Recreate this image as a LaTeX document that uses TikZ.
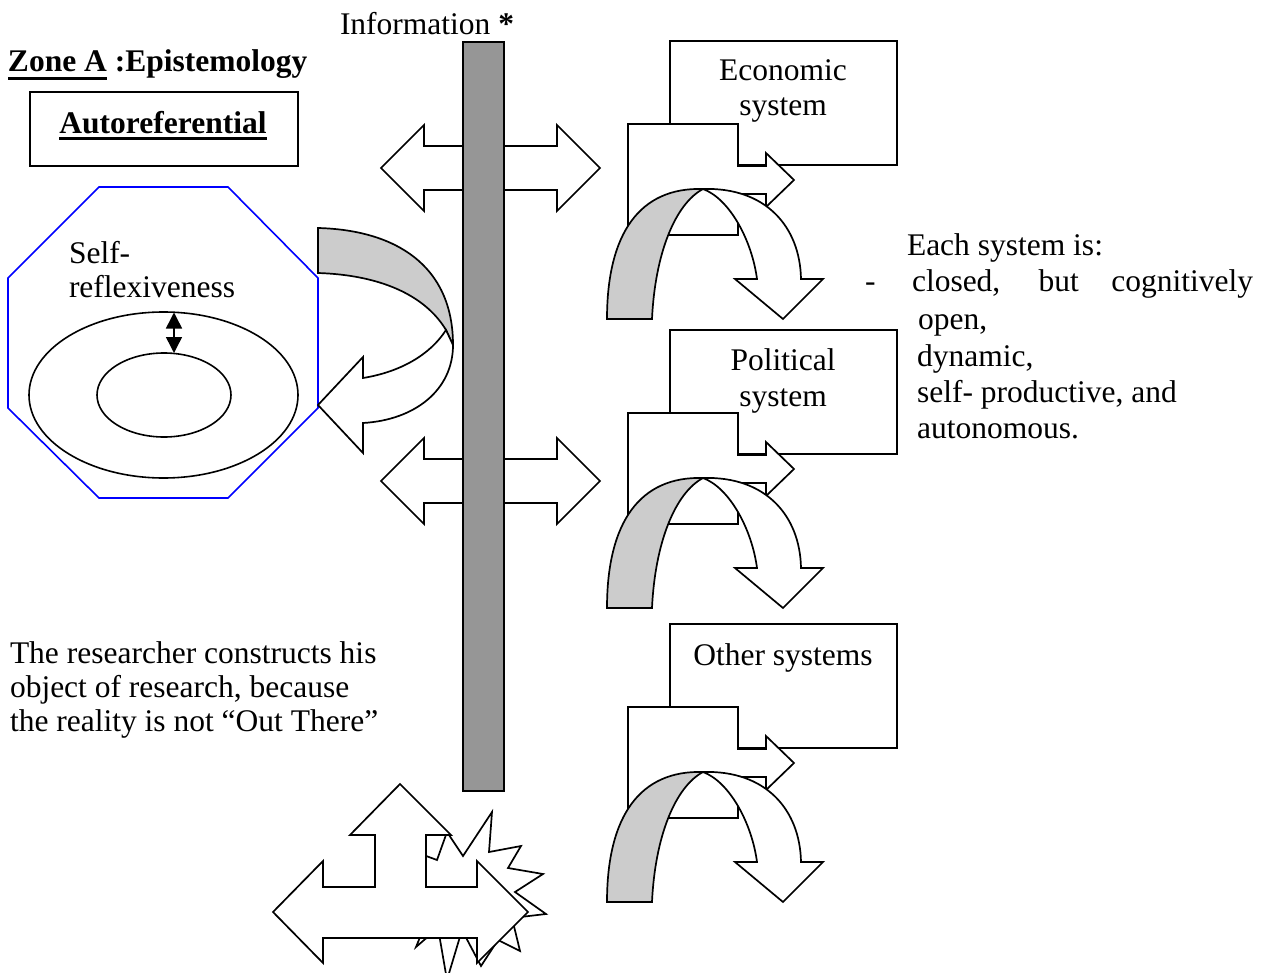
\documentclass[tikz,border=0pt]{standalone}
\usepackage{fontspec}
\setmainfont{Liberation Serif}
\usetikzlibrary{arrows.meta,shapes.geometric}
\definecolor{barfill}{RGB}{150,150,150}
\definecolor{bandfill}{RGB}{204,204,204}
\definecolor{octblue}{RGB}{0,0,255}
\begin{document}
\begin{tikzpicture}[x=1pt,y=-1pt,
  every node/.style={font=\fontsize{31.5}{34}\selectfont, inner sep=0pt, outer sep=0pt},
  outline/.style={draw=black, line width=1.7pt, fill=white, line join=miter},
  band/.style={draw=black, line width=1.7pt, fill=bandfill, line join=miter},
  txt/.style={anchor=base west},
  sysbox/.style={draw=black, line width=1.7pt, fill=white, anchor=north west,
                 minimum width=227pt, minimum height=124pt},
  uline/.style={line width=2.4pt},
]
\useasboundingbox (0,0) rectangle (1273,973);

% ---------- Zone A : octagon with the two nested ellipses ----------
\draw[octblue, line width=1.6pt] (99,187) -- (228,187) -- (318,278) -- (318,408)
  -- (228,498) -- (99,498) -- (8,408) -- (8,278) -- cycle;
\node[draw, ellipse, line width=1.6pt, minimum width=269pt, minimum height=166pt] (outer) at (163.5,395) {};
\node[draw, ellipse, line width=1.6pt, minimum width=134pt, minimum height=84pt] (inner) at (164,395) {};
\coordinate (srTop) at (174,312.5);
\coordinate (srBot) at (174,353);
\draw[line width=1.5pt, {Triangle[width=16pt,length=16pt]}-{Triangle[width=16pt,length=16pt]}] (srTop) -- (srBot);
\node[txt] (self1) at (69,264) {Self-};
\node[txt] (self2) at (69,298) {reflexiveness};

% ---------- curved arrow returning into the octagon ----------
\draw[band] (318,228) .. controls (395,230) and (453,265) .. (453,345)
  -- (446,330) .. controls (425,295) and (380,275) .. (318,273) -- cycle;
\draw[outline] (453,345) .. controls (453,390) and (415,420) .. (363,423)
  -- (363,453) -- (318,405) -- (363,357) -- (363,378)
  .. controls (400,372) and (430,355) .. (446,330) -- cycle;

% ---------- double arrows crossing the information bar ----------
\foreach \c in {168,481}{
  \draw[outline] (381,\c) -- (424,\c-43) -- (424,\c-22) -- (557,\c-22) -- (557,\c-43)
    -- (600,\c) -- (557,\c+43) -- (557,\c+22) -- (424,\c+22) -- (424,\c+43) -- cycle;
}

% ---------- burst behind the three-way arrow ----------
\draw[outline] (410,850) -- (437,860) -- (447,832) -- (463,856) -- (492,812) -- (489,852)
  -- (521,846) -- (508,868) -- (543,874) -- (515,892) -- (546,914) -- (512,918)
  -- (520,951) -- (498,940) -- (481,966) -- (462,930) -- (447,980) -- (438,928)
  -- (416,947) -- (425,925) -- (400,905) -- cycle;
\draw[outline] (273,912) -- (323,861) -- (323,887) -- (375,887) -- (375,835) -- (350,835)
  -- (400,784) -- (451,835) -- (426,835) -- (426,887) -- (477,887) -- (477,861)
  -- (528,912) -- (477,963) -- (477,938) -- (323,938) -- (323,963) -- cycle;

% ---------- information bar ----------
\node[draw, fill=barfill, line width=1.6pt, anchor=north west,
      minimum width=41pt, minimum height=749pt] (bar) at (463,42) {};
\node[txt] (info) at (340,35) {Information \textbf{*}};

% ---------- the three systems ----------
\foreach \yo/\nm in {41/eco,330/pol,624/oth}{
  \begin{scope}[shift={(0,\yo)}]
    \node[sysbox] (\nm) at (670,0) {};
    % box with an arrow leaving to the right
    \draw[outline] (628,83) -- (738,83) -- (738,125) -- (766,125) -- (766,112) -- (794,139)
      -- (766,166) -- (766,153) -- (738,153) -- (738,194) -- (628,194) -- cycle;
    % rear face of the curved arrow
    \draw[band] (607,278) .. controls (607,192) and (640,146) .. (703,148)
      .. controls (675,163) and (655,213) .. (652,278) -- cycle;
    % front face with its head
    \draw[outline] (703,148) .. controls (765,146) and (800,185) .. (801,238)
      -- (823,238) -- (783,278) -- (735,238) -- (757,238)
      .. controls (752,200) and (730,158) .. (703,148) -- cycle;
  \end{scope}
}
\node[anchor=base] (ecoA) at (783,81) {Economic};
\node[anchor=base] (ecoB) at (783,116) {system};
\node[anchor=base] (polA) at (783,370) {Political};
\node[anchor=base] (polB) at (783,406) {system};
\node[anchor=base] (othA) at (783,665) {Other systems};

% ---------- heading and label box ----------
\node[txt] (zone) at (8,72) {\bfseries Zone A};
\node[txt] (epi) at ([xshift=8pt]zone.base east) {\bfseries :Epistemology};
\draw[uline] ([yshift=-6.5pt]zone.base west) -- ([yshift=-6.5pt]zone.base east);
\node[draw, line width=1.7pt, anchor=north west, minimum width=268pt, minimum height=74pt] (autobox) at (30,92) {};
\node[anchor=base] (auto) at (163,134) {\bfseries Autoreferential};
\draw[uline] ([yshift=-4.5pt]auto.base west) -- ([yshift=-4.5pt]auto.base east);

% ---------- right-hand description ----------
\node[txt] (each) at (907,256) {Each system is:};
\node[txt] (dash) at (865,292) {-};
\node[txt] (l1) at (912,292) {\makebox[341pt][s]{closed, but cognitively}};
\node[txt] (l2) at (918,330) {open,};
\node[txt] (l3) at (917,366) {dynamic,};
\node[txt] (l4) at (917,402) {self- productive, and};
\node[txt] (l5) at (917,438) {autonomous.};

% ---------- left-hand remark ----------
\node[txt] (r1) at (10,663) {The researcher constructs his};
\node[txt] (r2) at (10,697) {object of research, because};
\node[txt] (r3) at (10,731) {the reality is not “Out There”};
\end{tikzpicture}
\end{document}
